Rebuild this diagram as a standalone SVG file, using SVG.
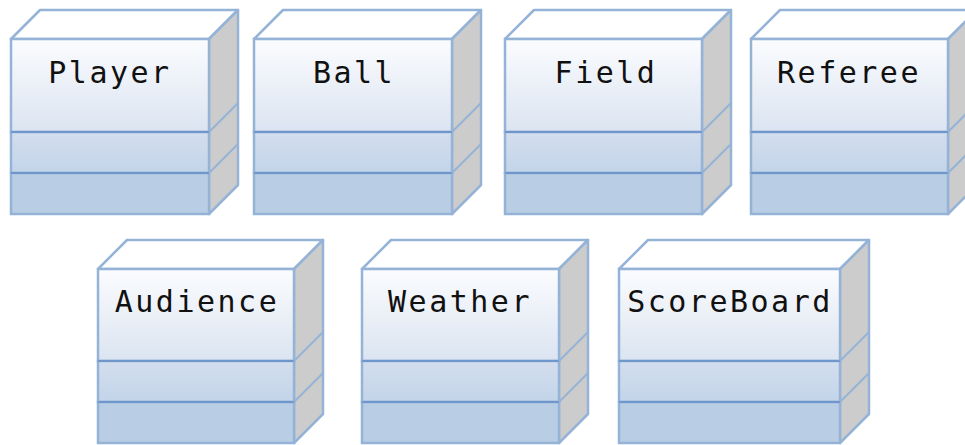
<svg xmlns="http://www.w3.org/2000/svg" width="965" height="445" viewBox="0 0 965 445">
<style>
.top{fill:#ffffff;stroke:#95b3d7;stroke-width:2.5;stroke-linejoin:round}
.side{fill:#cccccc;stroke:#95b3d7;stroke-width:2.5;stroke-linejoin:round}
.s1{fill:url(#g1);stroke:#95b3d7;stroke-width:2.5}
.s2{fill:url(#g2);stroke:#95b3d7;stroke-width:2.5}
.s3{fill:#b9cde5;stroke:#95b3d7;stroke-width:2.5}
.div{stroke:#6f97cb;stroke-width:2;fill:none}
.sdiv{stroke:#95b3d7;stroke-width:2;fill:none}
.lbl{font-family:"DejaVu Sans Mono","Liberation Mono",monospace;font-size:30px;letter-spacing:2.5px;fill:#111111;text-anchor:middle}
</style>
<defs>
<linearGradient id="g1" x1="0" y1="0" x2="0" y2="1"><stop offset="0" stop-color="#fbfcfe"/><stop offset="1" stop-color="#dbe4f1"/></linearGradient>
<linearGradient id="g2" x1="0" y1="0" x2="0" y2="1"><stop offset="0" stop-color="#d3deee"/><stop offset="1" stop-color="#c3d4e9"/></linearGradient>
</defs>

<g id="Player">
<polygon class="top" points="11,39 40,10 238,10 209,39"/>
<polygon class="side" points="209,39 238,10 238,185 209,214"/>
<rect class="s1" x="11" y="39" width="198" height="93"/>
<rect class="s2" x="11" y="132" width="198" height="41"/>
<rect class="s3" x="11" y="173" width="198" height="41"/>
<line class="div" x1="11" y1="132" x2="209" y2="132"/><line class="div" x1="11" y1="173" x2="209" y2="173"/>
<line class="sdiv" x1="209" y1="132" x2="238" y2="103"/><line class="sdiv" x1="209" y1="173" x2="238" y2="144"/>
<text class="lbl" x="110" y="83">Player</text>
</g>

<g id="Ball">
<polygon class="top" points="254,39 283,10 481,10 452,39"/>
<polygon class="side" points="452,39 481,10 481,185 452,214"/>
<rect class="s1" x="254" y="39" width="198" height="93"/>
<rect class="s2" x="254" y="132" width="198" height="41"/>
<rect class="s3" x="254" y="173" width="198" height="41"/>
<line class="div" x1="254" y1="132" x2="452" y2="132"/><line class="div" x1="254" y1="173" x2="452" y2="173"/>
<line class="sdiv" x1="452" y1="132" x2="481" y2="103"/><line class="sdiv" x1="452" y1="173" x2="481" y2="144"/>
<text class="lbl" x="354" y="83">Ball</text>
</g>

<g id="Field">
<polygon class="top" points="505,39 534,10 731,10 702,39"/>
<polygon class="side" points="702,39 731,10 731,185 702,214"/>
<rect class="s1" x="505" y="39" width="197" height="93"/>
<rect class="s2" x="505" y="132" width="197" height="41"/>
<rect class="s3" x="505" y="173" width="197" height="41"/>
<line class="div" x1="505" y1="132" x2="702" y2="132"/><line class="div" x1="505" y1="173" x2="702" y2="173"/>
<line class="sdiv" x1="702" y1="132" x2="731" y2="103"/><line class="sdiv" x1="702" y1="173" x2="731" y2="144"/>
<text class="lbl" x="606" y="83">Field</text>
</g>

<g id="Referee">
<polygon class="top" points="751,39 780,10 977,10 948,39"/>
<polygon class="side" points="948,39 977,10 977,185 948,214"/>
<rect class="s1" x="751" y="39" width="197" height="93"/>
<rect class="s2" x="751" y="132" width="197" height="41"/>
<rect class="s3" x="751" y="173" width="197" height="41"/>
<line class="div" x1="751" y1="132" x2="948" y2="132"/><line class="div" x1="751" y1="173" x2="948" y2="173"/>
<line class="sdiv" x1="948" y1="132" x2="977" y2="103"/><line class="sdiv" x1="948" y1="173" x2="977" y2="144"/>
<text class="lbl" x="849" y="83">Referee</text>
</g>

<g id="Audience">
<polygon class="top" points="98,269 127,240 323,240 294,269"/>
<polygon class="side" points="294,269 323,240 323,414 294,443"/>
<rect class="s1" x="98" y="269" width="196" height="92"/>
<rect class="s2" x="98" y="361" width="196" height="41"/>
<rect class="s3" x="98" y="402" width="196" height="41"/>
<line class="div" x1="98" y1="361" x2="294" y2="361"/><line class="div" x1="98" y1="402" x2="294" y2="402"/>
<line class="sdiv" x1="294" y1="361" x2="323" y2="332"/><line class="sdiv" x1="294" y1="402" x2="323" y2="373"/>
<text class="lbl" x="197" y="312">Audience</text>
</g>

<g id="Weather">
<polygon class="top" points="362,269 391,240 588,240 559,269"/>
<polygon class="side" points="559,269 588,240 588,414 559,443"/>
<rect class="s1" x="362" y="269" width="197" height="92"/>
<rect class="s2" x="362" y="361" width="197" height="41"/>
<rect class="s3" x="362" y="402" width="197" height="41"/>
<line class="div" x1="362" y1="361" x2="559" y2="361"/><line class="div" x1="362" y1="402" x2="559" y2="402"/>
<line class="sdiv" x1="559" y1="361" x2="588" y2="332"/><line class="sdiv" x1="559" y1="402" x2="588" y2="373"/>
<text class="lbl" x="460" y="312">Weather</text>
</g>

<g id="ScoreBoard">
<polygon class="top" points="619,269 648,240 869,240 840,269"/>
<polygon class="side" points="840,269 869,240 869,414 840,443"/>
<rect class="s1" x="619" y="269" width="221" height="92"/>
<rect class="s2" x="619" y="361" width="221" height="41"/>
<rect class="s3" x="619" y="402" width="221" height="41"/>
<line class="div" x1="619" y1="361" x2="840" y2="361"/><line class="div" x1="619" y1="402" x2="840" y2="402"/>
<line class="sdiv" x1="840" y1="361" x2="869" y2="332"/><line class="sdiv" x1="840" y1="402" x2="869" y2="373"/>
<text class="lbl" x="730" y="312">ScoreBoard</text>
</g>

<g id="connectors"></g>
</svg>
